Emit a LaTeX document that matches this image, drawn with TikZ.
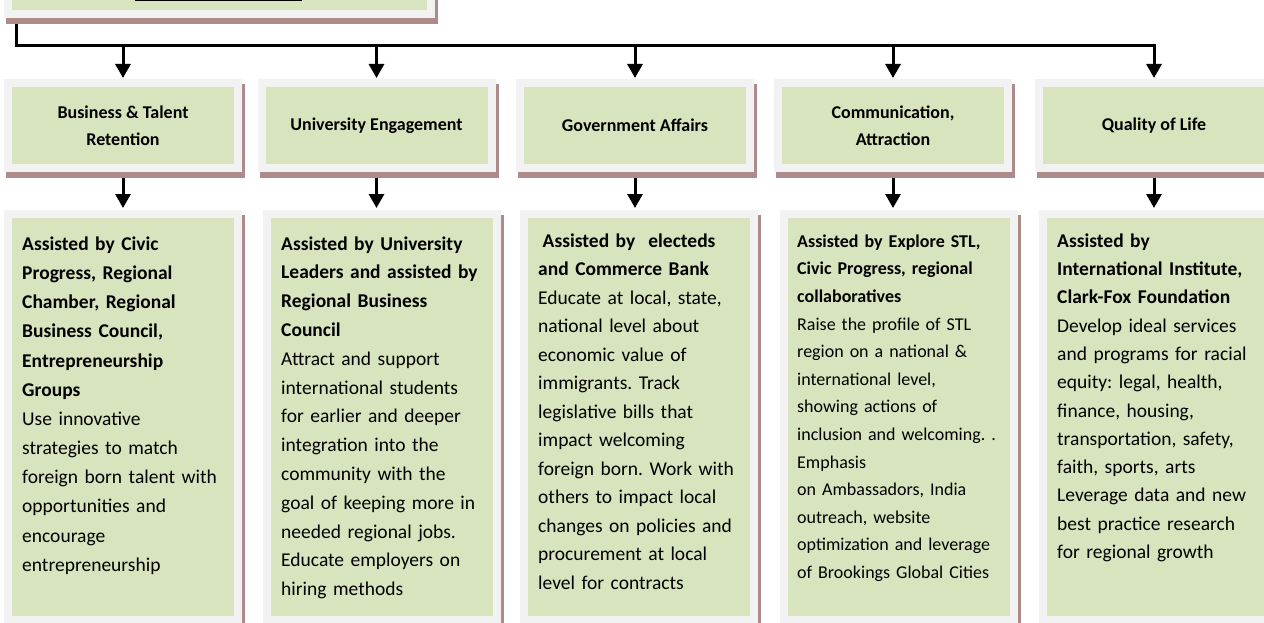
\documentclass[tikz,border=0pt]{standalone}
\usepackage{fontspec}
\setmainfont{Carlito}
\usetikzlibrary{arrows.meta,backgrounds}
\definecolor{boxgreen}{HTML}{D7E4BD}
\definecolor{framegray}{HTML}{F2F2F2}
\definecolor{shadowc}{HTML}{AD8B8B}
\newcommand\fsz[2]{\fontsize{#1}{#2}\selectfont}
\frenchspacing
\tikzset{
  frame/.style={draw=framegray, fill=boxgreen, line width=8pt, inner sep=0pt, minimum width=230pt},
  headbox/.style={frame, minimum height=85pt, font=\bfseries\fsz{18}{27}\frenchspacing, align=center},
  bodybox/.style={frame, minimum height=406pt},
  bodytext/.style={anchor=north west, inner sep=0pt, text width=226pt, align=left},
  conn/.style={line width=3pt, draw=black},
  arr/.style={conn, -{Triangle[width=15pt,length=14pt]}},
}
\begin{document}
\begin{tikzpicture}[x=1pt,y=-1pt]
\useasboundingbox (0,0) rectangle (1264,623);
\clip (0,0) rectangle (1264,623);

% top (cut-off) box
\node[frame, minimum width=423pt, minimum height=80pt] (top) at (219.5,-26) {};
\draw[line width=1.5pt] (135,0.7) -- (302,0.7);

% level one
\node[headbox] (a1) at (123,125.5) {Business \& Talent\\Retention};
\node[headbox] (a2) at (376.5,125.5) {\raisebox{-2pt}{University Engagement}};
\node[headbox] (a3) at (635,125.5) {\raisebox{-2pt}{Government Affairs}};
\node[headbox] (a4) at (893,125.5) {Communication,\\Attraction};
\node[headbox] (a5) at (1154,125.5) {\raisebox{-2pt}{Quality of Life}};

% level two
\node[bodybox] (c1) at (123,417) {};
\node[bodybox] (c2) at (382,417) {};
\node[bodybox] (c3) at (638.5,417) {};
\node[bodybox] (c4) at (898.5,417) {};
\node[bodybox] (c5) at (1158,417) {};

% background and shadows
\begin{scope}[on background layer]
  \fill[white] (0,0) rectangle (1264,623);
  \foreach \n in {top,a1,a2,a3,a4,a5,c1,c2,c3,c4,c5}
    \fill[shadowc] ([shift={(2,5)}]\n.north west) rectangle ([shift={(3,6)}]\n.south east);
\end{scope}

% body texts
\node[bodytext, font=\fsz{19.5}{29.2}\frenchspacing] (t1) at (22,234) {\rule{0pt}{16pt}\textbf{Assisted by Civic}\\
\textbf{Progress, Regional}\\
\textbf{Chamber, Regional}\\
\textbf{Business Council,}\\
\textbf{Entrepreneurship}\\
\textbf{Groups}\\
Use innovative\\
strategies to match\\
foreign born talent with\\
opportunities and\\
encourage\\
entrepreneurship};

\node[bodytext, font=\fsz{19.5}{28.8}\frenchspacing] (t2) at (281,234) {\rule{0pt}{16pt}\textbf{Assisted by University}\\
\textbf{Leaders and assisted by}\\
\textbf{Regional Business}\\
\textbf{Council}\\
Attract and support\\
international students\\
for earlier and deeper\\
integration into the\\
community with the\\
goal of keeping more in\\
needed regional jobs.\\
Educate employers on\\
hiring methods};

\node[bodytext, font=\fsz{19.5}{28.5}\frenchspacing] (t3) at (538,231) {\rule{0pt}{16pt}\hspace{4.5pt}\textbf{Assisted by\ \ electeds}\\
\textbf{and Commerce Bank}\\
Educate at local, state,\\
national level about\\
economic value of\\
immigrants. Track\\
legislative bills that\\
impact welcoming\\
foreign born. Work with\\
others to impact local\\
changes on policies and\\
procurement at local\\
level for contracts};

\node[bodytext, font=\fsz{18}{27.6}\frenchspacing] (t4) at (797,231) {\rule{0pt}{16pt}\textbf{Assisted by Explore STL,}\\
\textbf{Civic Progress, regional}\\
\textbf{collaboratives}\\
Raise the profile of STL\\
region on a national \&\\
international level,\\
showing actions of\\
inclusion and welcoming. .\\
Emphasis\\
on Ambassadors, India\\
outreach, website\\
optimization and leverage\\
of Brookings Global Cities};

\node[bodytext, font=\fsz{19.5}{28.3}\frenchspacing] (t5) at (1057,231) {\rule{0pt}{16pt}\textbf{Assisted by}\\
\textbf{International Institute,}\\
\textbf{Clark-Fox Foundation}\\
Develop ideal services\\
and programs for racial\\
equity: legal, health,\\
finance, housing,\\
transportation, safety,\\
faith, sports, arts\\
Leverage data and new\\
best practice research\\
for regional growth};

% connectors
\coordinate (busL) at (16.5,46);
\coordinate (busR) at (1154,46);
\draw[conn] ([shift={(0,6)}]top.south -| busL) |- ([shift={(1.5,0)}]busR);
\foreach \n in {a1,a2,a3,a4,a5}
  \draw[arr] (\n.north |- busL) -- ([shift={(0,-1)}]\n.north);
\foreach \n/\m in {a1/c1,a2/c2,a3/c3,a4/c4,a5/c5}
  \draw[arr] ([shift={(0,6)}]\n.south) -- ([shift={(0,-2)}]\n.south |- \m.north);
\end{tikzpicture}
\end{document}
